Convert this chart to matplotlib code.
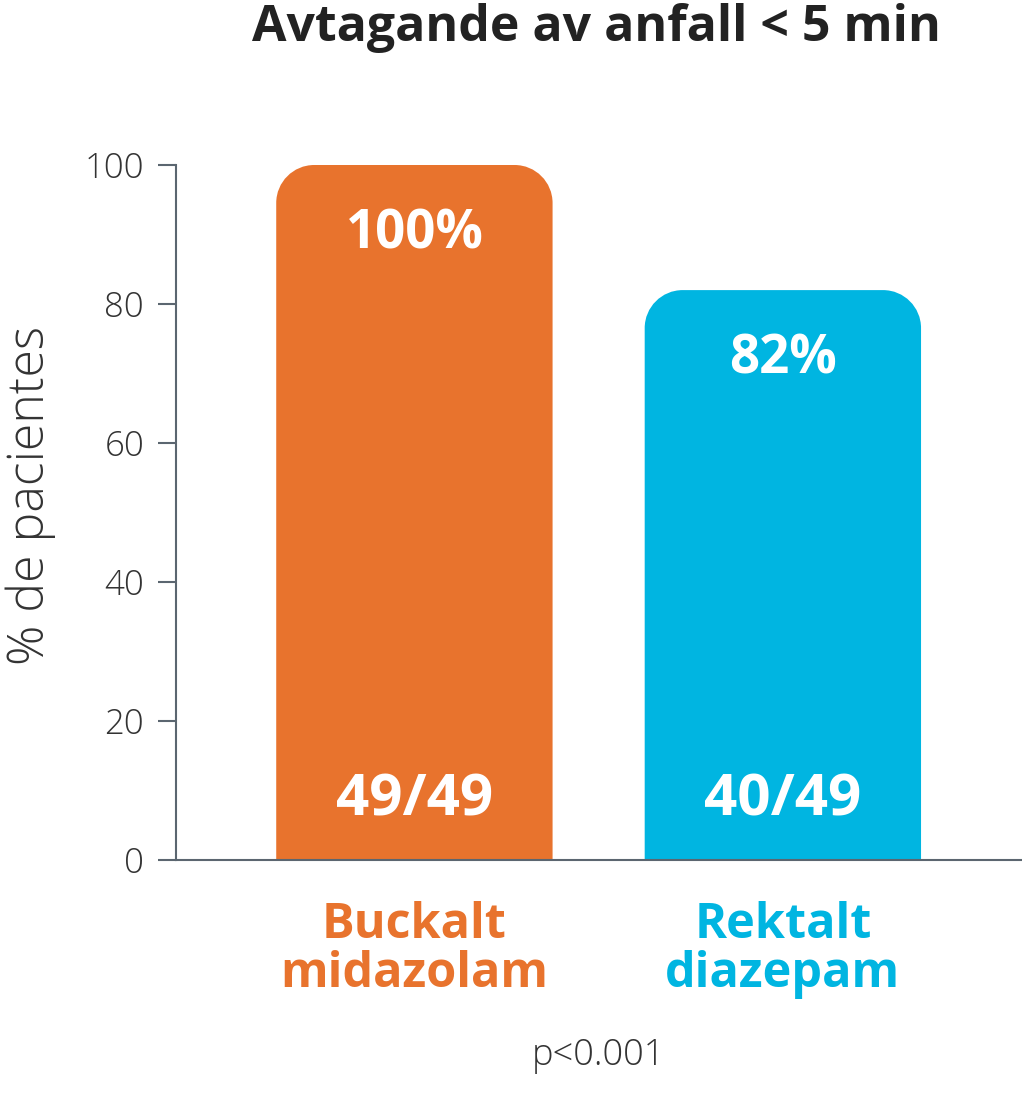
import numpy as np
import matplotlib
matplotlib.use('Agg')
import matplotlib.pyplot as plt
from matplotlib.path import Path
from matplotlib.patches import PathPatch

# Données
categories = ['Buckalt\nmidazolam', 'Rektalt\ndiazepam']
pourcentages = [100, 82]
etiquettes_pct = ['100%', '82%']
etiquettes_n = ['49/49', '40/49']
couleurs = ['#E8732D', '#00B5E1']
ticks_y = [0, 20, 40, 60, 80, 100]

plt.rcParams['font.family'] = ['Open Sans', 'DejaVu Sans']
gris = '#5B6670'
texte = '#333333'

fig = plt.figure(figsize=(10.22, 10.93), dpi=100)
ax = fig.add_axes([176 / 1022, 1 - 860 / 1093, 1 - 176 / 1022, (860 - 165) / 1093])

x = np.arange(len(categories))
bars = ax.bar(x, pourcentages, width=0.75, color=couleurs)
ax.set_xlim(-0.647, 1.649)
ax.set_ylim(0, 100)

# Coins arrondis en haut des barres (rayon ~38 px)
fig.canvas.draw()
sx = ax.transData.transform((1, 0))[0] - ax.transData.transform((0, 0))[0]
sy = ax.transData.transform((0, 1))[1] - ax.transData.transform((0, 0))[1]
rx, ry = 38 / sx, 38 / sy
k = 0.5523
for b in bars:
    x0, w, h = b.get_x(), b.get_width(), b.get_height()
    x1 = x0 + w
    verts = [(x0, 0), (x0, h - ry),
             (x0, h - ry + k * ry), (x0 + rx - k * rx, h), (x0 + rx, h),
             (x1 - rx, h),
             (x1 - rx + k * rx, h), (x1, h - ry + k * ry), (x1, h - ry),
             (x1, 0), (x0, 0)]
    codes = [Path.MOVETO, Path.LINETO,
             Path.CURVE4, Path.CURVE4, Path.CURVE4,
             Path.LINETO,
             Path.CURVE4, Path.CURVE4, Path.CURVE4,
             Path.LINETO, Path.CLOSEPOLY]
    ax.add_patch(PathPatch(Path(verts, codes), facecolor=b.get_facecolor(),
                           edgecolor='none', zorder=2))
    b.set_visible(False)

for xi, v, lp, ln in zip(x, pourcentages, etiquettes_pct, etiquettes_n):
    ax.text(xi, v - 10, lp, ha='center', va='center', color='white',
            fontsize=38, fontweight='bold', zorder=3)
    ax.text(xi, 8.6, ln, ha='center', va='center', color='white',
            fontsize=42, fontweight='bold', zorder=3)

# Axes
for s in ['top', 'right']:
    ax.spines[s].set_visible(False)
for s in ['left', 'bottom']:
    ax.spines[s].set_color(gris)
    ax.spines[s].set_linewidth(1.5)
ax.set_yticks(ticks_y)
ax.set_yticklabels([str(t) for t in ticks_y], fontsize=25, fontweight='light', color=texte)
ax.tick_params(axis='y', length=13, width=1.5, color=gris, pad=10)
ax.set_xticks([])
ax.set_ylabel('% de pacientes', fontsize=36, fontweight='light', color=texte)
ax.yaxis.set_label_coords((56 - 176) / 846, 0.525)

for xi, c, col in zip(x, categories, couleurs):
    ax.text(xi, -13, c, ha='center', va='center', color=col,
            fontsize=35, fontweight='bold', linespacing=1.0, clip_on=False)

fig.text(596 / 1022, 1 - 28 / 1093, 'Avtagande av anfall < 5 min', ha='center', va='center',
         fontsize=36, fontweight='bold', color='#222222')
fig.text(598 / 1022, 1 - 1055 / 1093, 'p<0.001', ha='center', va='center',
         fontsize=26, fontweight='light', color=texte)

fig.savefig('out.png', dpi=100)
